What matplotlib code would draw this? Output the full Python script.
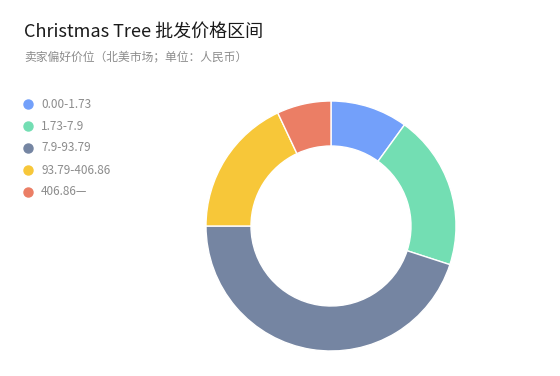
import matplotlib
matplotlib.use("Agg")
import matplotlib.pyplot as plt
from matplotlib.lines import Line2D

plt.rcParams['font.family'] = ['Noto Sans CJK SC', 'DejaVu Sans']

labels = ['0.00-1.73', '1.73-7.9', '7.9-93.79', '93.79-406.86', '406.86—']
shares = [10, 20, 45, 18, 7]
colors = ['#73A0FA', '#73DEB3', '#7585A2', '#F7C739', '#EB7E65']

W, H = 560, 376
fig = plt.figure(figsize=(W / 100, H / 100), dpi=100, facecolor='white')

# donut: centre (331, 226), outer radius 125 px
ax = fig.add_axes([206 / W, (H - 351) / H, 250 / W, 250 / H])
ax.pie(shares, colors=colors, startangle=90, counterclock=False, radius=1,
       wedgeprops=dict(width=0.36, edgecolor='white', linewidth=1))
ax.set_xlim(-1, 1)
ax.set_ylim(-1, 1)
ax.set_aspect('equal')
ax.axis('off')

fig.text(24 / W, 1 - 32 / H, 'Christmas Tree 批发价格区间', fontsize=13,
         color='#1a1a1a', va='center', ha='left')
fig.text(24 / W, 1 - 57 / H, '卖家偏好价位（北美市场；单位：人民币）', fontsize=8.5,
         color='#8c8c8c', va='center', ha='left')

# legend
for i, (lab, c) in enumerate(zip(labels, colors)):
    y = 1 - (104 + i * 22) / H
    fig.add_artist(Line2D([28 / W], [y], marker='o', markersize=6.5,
                          color=c, linestyle='none', transform=fig.transFigure))
    fig.text(41 / W, y, lab, fontsize=8.5, color='#8c8c8c', va='center', ha='left')

plt.savefig('out.png', dpi=100)
plt.close()
